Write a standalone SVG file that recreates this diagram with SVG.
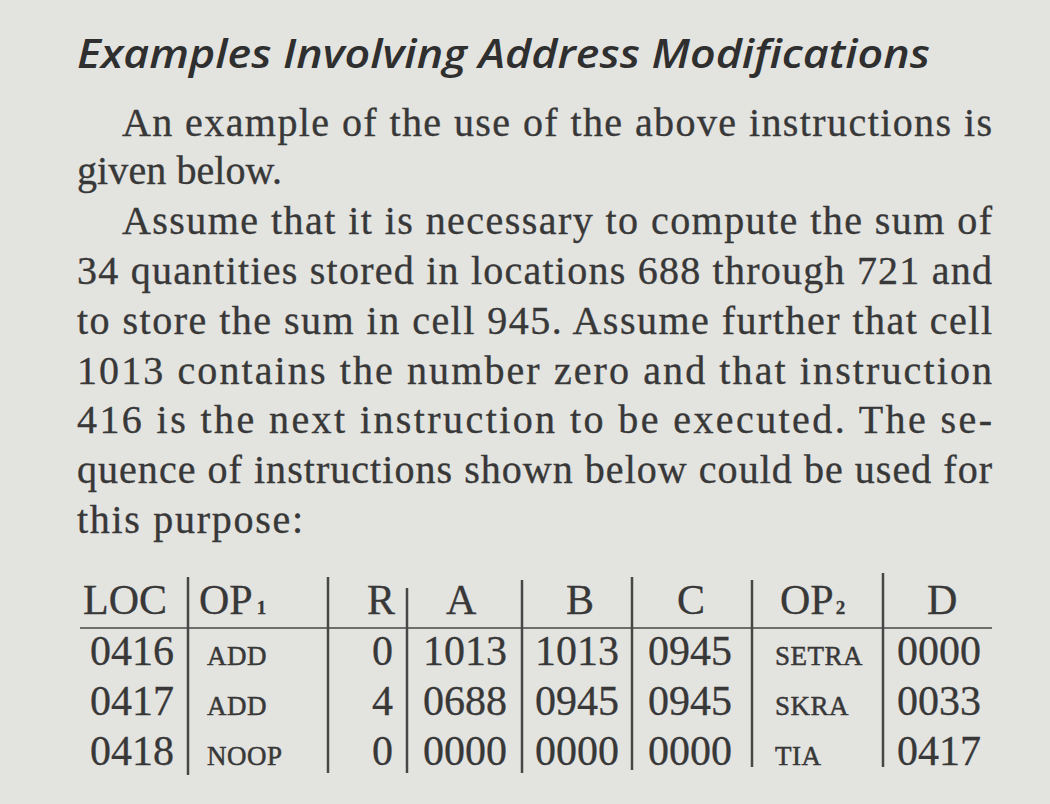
<svg xmlns="http://www.w3.org/2000/svg" width="1050" height="804" viewBox="0 0 1050 804">
<style>
.title{font-family:"Open Sans","Noto Sans",sans-serif;font-style:italic;font-weight:600;font-size:40px;fill:#2f2f2f}
.body{font-family:"Liberation Serif","Times New Roman",serif;font-size:40px;fill:#383838;stroke:#383838;stroke-width:0.35}
.tb{font-family:"Liberation Serif","Times New Roman",serif;font-size:42px;fill:#383838;stroke:#383838;stroke-width:0.3}
.sc{font-family:"Liberation Serif","Times New Roman",serif;font-size:27px;fill:#383838;stroke:#383838;stroke-width:0.5;letter-spacing:0.5px}
.sub{font-size:19px;font-weight:bold}
.bar{stroke:#474747;stroke-width:2.5;fill:none}
.rule{stroke:#6e6e6e;stroke-width:2;fill:none}
</style>
<rect x="0" y="0" width="1050" height="804" fill="#e3e3e0"/>
<g id="heading">
<text class="title" x="77" y="68" textLength="853" lengthAdjust="spacingAndGlyphs">Examples Involving Address Modifications</text>
</g>
<g id="paragraph">
<text class="body" x="122" y="136" textLength="870" lengthAdjust="spacing">An example of the use of the above instructions is</text>
<text class="body" x="77" y="184" textLength="205" lengthAdjust="spacing">given below.</text>
<text class="body" x="122" y="234" textLength="870" lengthAdjust="spacing">Assume that it is necessary to compute the sum of</text>
<text class="body" x="77" y="284" textLength="915" lengthAdjust="spacing">34 quantities stored in locations 688 through 721 and</text>
<text class="body" x="77" y="334" textLength="915" lengthAdjust="spacing">to store the sum in cell 945. Assume further that cell</text>
<text class="body" x="77" y="384" textLength="915" lengthAdjust="spacing">1013 contains the number zero and that instruction</text>
<text class="body" x="77" y="433" textLength="915" lengthAdjust="spacing">416 is the next instruction to be executed. The se-</text>
<text class="body" x="77" y="483" textLength="915" lengthAdjust="spacing">quence of instructions shown below could be used for</text>
<text class="body" x="77" y="533" textLength="226" lengthAdjust="spacing">this purpose:</text>
</g>
<g id="table">
<g id="table-lines">
<line class="rule" x1="80" y1="628" x2="992" y2="628"/>
<line class="bar" x1="188" y1="577" x2="188" y2="775"/>
<line class="bar" x1="328" y1="577" x2="328" y2="773"/>
<line class="bar" x1="407" y1="588" x2="407" y2="773"/>
<line class="bar" x1="522" y1="580" x2="522" y2="773"/>
<line class="bar" x1="632" y1="577" x2="632" y2="770"/>
<line class="bar" x1="752" y1="580" x2="752" y2="767"/>
<line class="bar" x1="883" y1="573" x2="883" y2="767"/>
</g>
<g id="table-header">
<text class="tb" x="83" y="614">LOC</text>
<text class="tb" x="199" y="614">OP<tspan class="sub" dx="4">1</tspan></text>
<text class="tb" x="367" y="614">R</text>
<text class="tb" x="446" y="614">A</text>
<text class="tb" x="566" y="614">B</text>
<text class="tb" x="677" y="614">C</text>
<text class="tb" x="780" y="614">OP<tspan class="sub" dx="2">2</tspan></text>
<text class="tb" x="927" y="614">D</text>
</g>
<g id="row-0416">
<text class="tb" x="90" y="665">0416</text>
<text class="sc" x="207" y="665">ADD</text>
<text class="tb" x="393" y="665" text-anchor="end">0</text>
<text class="tb" x="423" y="665">1013</text>
<text class="tb" x="535" y="665">1013</text>
<text class="tb" x="648" y="665">0945</text>
<text class="sc" x="775" y="665">SETRA</text>
<text class="tb" x="897" y="665">0000</text>
</g>
<g id="row-0417">
<text class="tb" x="90" y="715">0417</text>
<text class="sc" x="207" y="715">ADD</text>
<text class="tb" x="393" y="715" text-anchor="end">4</text>
<text class="tb" x="423" y="715">0688</text>
<text class="tb" x="535" y="715">0945</text>
<text class="tb" x="648" y="715">0945</text>
<text class="sc" x="775" y="715">SKRA</text>
<text class="tb" x="897" y="715">0033</text>
</g>
<g id="row-0418">
<text class="tb" x="90" y="765">0418</text>
<text class="sc" x="207" y="765">NOOP</text>
<text class="tb" x="393" y="765" text-anchor="end">0</text>
<text class="tb" x="423" y="765">0000</text>
<text class="tb" x="535" y="765">0000</text>
<text class="tb" x="648" y="765">0000</text>
<text class="sc" x="775" y="765">TIA</text>
<text class="tb" x="897" y="765">0417</text>
</g>
</g>
</svg>
